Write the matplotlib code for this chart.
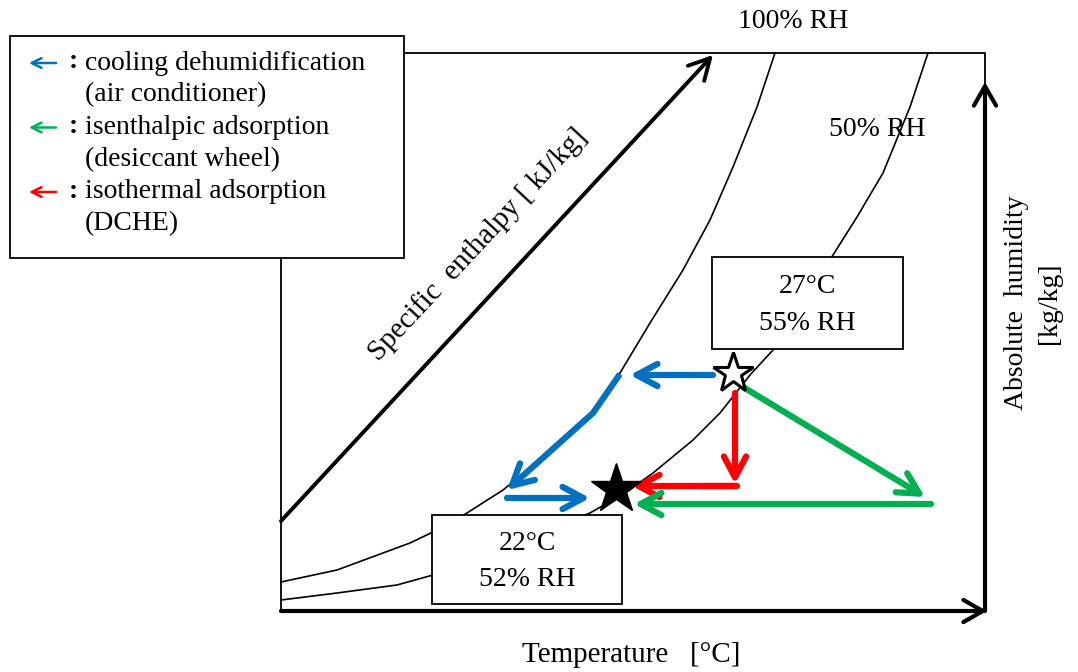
import matplotlib.pyplot as plt
from matplotlib.patches import FancyArrowPatch, Rectangle

plt.rcParams['font.family'] = ['Liberation Serif', 'DejaVu Serif']

# schematic coordinates (chart units, y grows downward like the drawing)
frame_left, frame_right, frame_top, frame_bottom = 281, 985, 53, 611

rh100_x = [281, 337, 410, 433, 467, 503, 540, 570, 595, 620, 650, 683, 710, 733, 757, 775]
rh100_y = [582, 570, 543, 532, 513, 490, 460, 436, 410, 373, 323, 270, 220, 167, 107, 53]
rh50_x = [281, 337, 397, 433, 590, 625, 653, 693, 720, 750, 773, 800, 833, 857, 883, 910, 928]
rh50_y = [600, 593, 585, 575, 513, 493, 473, 440, 413, 375, 350, 310, 255, 217, 173, 107, 53]

enthalpy_start = (281, 521)
enthalpy_end = (713, 55)

state_in = (733, 373)
state_out = (616, 489)

blue_path_x = [620, 593, 507]
blue_path_y = [374, 413, 490]

legend_items = [('#0070C0', 'cooling dehumidification', '(air conditioner)'),
                ('#00B050', 'isenthalpic adsorption', '(desiccant wheel)'),
                ('#FF0000', 'isothermal adsorption', '(DCHE)')]

fig = plt.figure(figsize=(10.78, 6.72), dpi=100)
ax = fig.add_axes([0, 0, 1, 1])
ax.set_xlim(0, 1078)
ax.set_ylim(672, 0)
ax.axis('off')


def arrow(p0, p1, color, lw, hl=14, hw=8, z=3):
    a = FancyArrowPatch(p0, p1, arrowstyle='->,head_length=%g,head_width=%g' % (hl / 10, hw / 10),
                        color=color, lw=lw, mutation_scale=10, shrinkA=0, shrinkB=0,
                        joinstyle='round', capstyle='round', zorder=z)
    ax.add_patch(a)


# frame
ax.plot([405, frame_right, frame_right], [frame_top, frame_top, 85], color='black', lw=1.3)
ax.plot([frame_left, frame_left], [258, frame_bottom], color='black', lw=1.3)
arrow((frame_left, frame_bottom), (frame_right + 2, frame_bottom), 'black', 3, 14, 8)
arrow((frame_right, frame_bottom), (frame_right, 82), 'black', 3, 14, 8)

# RH curves
ax.plot(rh100_x, rh100_y, color='black', lw=1.2)
ax.plot(rh50_x, rh50_y, color='black', lw=1.2)

# enthalpy arrow
arrow(enthalpy_start, enthalpy_end, 'black', 2.8, 15, 8)

# process lines
blue = '#0070C0'
green = '#00B050'
red = '#FF0000'
lw = 4.5
hl, hw = 15, 8
arrow((713, 375), (630, 375), blue, lw, hl, hw)
ax.plot(blue_path_x[:2], blue_path_y[:2], color=blue, lw=lw, solid_capstyle='butt')
arrow((blue_path_x[1], blue_path_y[1]), (blue_path_x[2], blue_path_y[2]), blue, lw, hl, hw)
arrow((507, 498), (590, 498), blue, lw, hl, hw)

arrow((735, 393), (735, 484), red, lw, hl, hw)
ax.plot([737, 700], [486, 486], color=red, lw=lw, solid_capstyle='butt')
arrow((737, 486), (632, 486), red, lw, hl, hw)

arrow((743, 387), (925, 497), green, lw, hl, hw)
arrow((931, 504), (634, 504), green, lw, hl, hw)

ax.plot(*state_in, marker='*', markersize=30, markerfacecolor='white',
        markeredgecolor='black', markeredgewidth=2.2, zorder=5)
ax.plot(*state_out, marker='*', markersize=38, color='black', zorder=5)

# state boxes
for (x0, y0, w, h, txt) in [(712, 257, 191, 92, '27°C\n55% RH'), (432, 515, 190, 89, '22°C\n52% RH')]:
    ax.add_patch(Rectangle((x0, y0), w, h, facecolor='white', edgecolor='black', lw=1.3, zorder=6))
    ax.text(x0 + w / 2, y0 + h / 2 + 2, txt, ha='center', va='center', fontsize=20,
            linespacing=1.6, zorder=7)

# labels
ax.text(793, 22, '100% RH', ha='center', va='center', fontsize=20)
ax.text(877, 130, '50% RH', ha='center', va='center', fontsize=20)
ax.text(478, 245, 'Specific  enthalpy [ kJ/kg]', ha='center', va='center', fontsize=21,
        rotation=47, rotation_mode='anchor')
ax.text(1033, 303, 'Absolute  humidity\n[kg/kg]', ha='center', va='center', fontsize=20,
        rotation=90, linespacing=1.45)
ax.text(631, 655, 'Temperature   [°C]', ha='center', va='center', fontsize=21)

# legend box
ax.add_patch(Rectangle((10, 36), 394, 222, facecolor='white', edgecolor='black', lw=1.3, zorder=6))
row = 0
for color, line1, line2 in legend_items:
    y = 63 + row * 64.5
    ax.annotate('', xy=(29, y), xytext=(56, y),
                arrowprops=dict(arrowstyle='->,head_length=0.7,head_width=0.35', color=color,
                                lw=1.8, shrinkA=0, shrinkB=0),
                zorder=7)
    ax.text(73, y - 1, ':', ha='center', va='center', fontsize=20, fontweight='bold', zorder=7)
    ax.text(85, y, line1, ha='left', va='center', fontsize=20, zorder=7)
    ax.text(85, y + 32, line2, ha='left', va='center', fontsize=20, zorder=7)
    row += 1

fig.savefig('out.png', dpi=100)
